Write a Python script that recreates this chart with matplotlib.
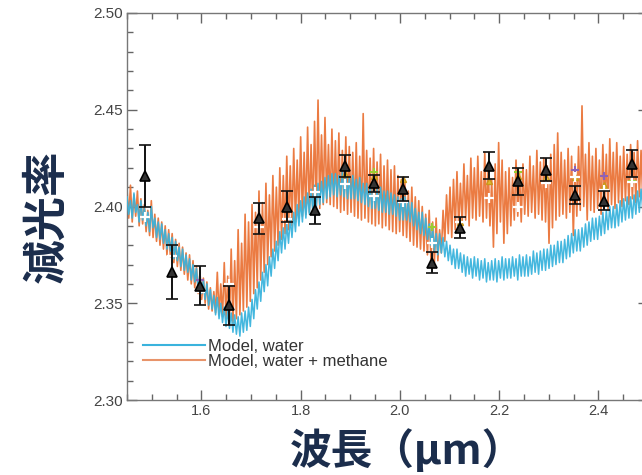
import numpy as np
import matplotlib
matplotlib.use("Agg")
import matplotlib.pyplot as plt

# Wavelength grid of the model spectra (micron)
wl_start, wl_step = 1.45, 0.0035

# Model transit depth: water only (10 samples per row)
model_water = [
    2.405, 2.396, 2.403, 2.394, 2.407, 2.397, 2.401, 2.392, 2.403, 2.393,
    2.399, 2.390, 2.397, 2.387, 2.400, 2.389, 2.394, 2.384, 2.392, 2.383,
    2.391, 2.381, 2.388, 2.378, 2.386, 2.377, 2.384, 2.373, 2.382, 2.372,
    2.379, 2.369, 2.378, 2.367, 2.375, 2.366, 2.373, 2.362, 2.370, 2.361,
    2.368, 2.357, 2.365, 2.355, 2.362, 2.352, 2.360, 2.349, 2.357, 2.347,
    2.354, 2.344, 2.353, 2.342, 2.350, 2.340, 2.348, 2.338, 2.346, 2.337,
    2.345, 2.335, 2.344, 2.334, 2.343, 2.333, 2.345, 2.335, 2.346, 2.336,
    2.348, 2.338, 2.352, 2.342, 2.357, 2.347, 2.361, 2.351, 2.366, 2.356,
    2.370, 2.359, 2.374, 2.364, 2.378, 2.368, 2.382, 2.372, 2.387, 2.376,
    2.389, 2.378, 2.391, 2.381, 2.394, 2.384, 2.397, 2.387, 2.401, 2.390,
    2.403, 2.392, 2.405, 2.394, 2.407, 2.396, 2.409, 2.398, 2.411, 2.400,
    2.412, 2.401, 2.413, 2.402, 2.415, 2.404, 2.416, 2.405, 2.417, 2.406,
    2.417, 2.405, 2.416, 2.406, 2.418, 2.405, 2.416, 2.404, 2.415, 2.404,
    2.416, 2.404, 2.414, 2.403, 2.415, 2.402, 2.412, 2.401, 2.412, 2.400,
    2.411, 2.399, 2.410, 2.399, 2.409, 2.398, 2.410, 2.397, 2.408, 2.397,
    2.408, 2.396, 2.407, 2.396, 2.406, 2.395, 2.405, 2.393, 2.404, 2.393,
    2.405, 2.393, 2.403, 2.392, 2.402, 2.390, 2.399, 2.388, 2.397, 2.386,
    2.397, 2.385, 2.394, 2.383, 2.391, 2.380, 2.389, 2.377, 2.386, 2.375,
    2.386, 2.376, 2.384, 2.374, 2.382, 2.372, 2.380, 2.370, 2.378, 2.368,
    2.378, 2.368, 2.376, 2.366, 2.375, 2.364, 2.374, 2.365, 2.373, 2.363,
    2.374, 2.364, 2.373, 2.362, 2.372, 2.363, 2.373, 2.361, 2.371, 2.362,
    2.372, 2.362, 2.373, 2.361, 2.372, 2.363, 2.374, 2.362, 2.373, 2.363,
    2.373, 2.363, 2.374, 2.364, 2.373, 2.362, 2.375, 2.364, 2.374, 2.364,
    2.375, 2.364, 2.374, 2.365, 2.377, 2.366, 2.376, 2.365, 2.377, 2.367,
    2.378, 2.367, 2.378, 2.368, 2.380, 2.369, 2.380, 2.370, 2.382, 2.371,
    2.382, 2.371, 2.383, 2.373, 2.385, 2.374, 2.386, 2.376, 2.388, 2.377,
    2.388, 2.377, 2.389, 2.379, 2.391, 2.380, 2.392, 2.382, 2.394, 2.383,
    2.394, 2.383, 2.395, 2.385, 2.397, 2.386, 2.398, 2.388, 2.400, 2.389,
    2.400, 2.389, 2.401, 2.390, 2.403, 2.392, 2.404, 2.393, 2.405, 2.394,
    2.405, 2.394, 2.406, 2.396, 2.408, 2.397, 2.409, 2.398, 2.410, 2.399,
    2.405,
]

# Model transit depth: water + methane (10 samples per row)
model_methane = [
    2.409, 2.394, 2.411, 2.392, 2.406, 2.395, 2.408, 2.390, 2.404, 2.391,
    2.401, 2.387, 2.398, 2.385, 2.403, 2.384, 2.396, 2.382, 2.394, 2.380,
    2.392, 2.378, 2.390, 2.375, 2.388, 2.374, 2.386, 2.371, 2.383, 2.369,
    2.381, 2.367, 2.379, 2.365, 2.376, 2.362, 2.375, 2.360, 2.372, 2.358,
    2.369, 2.355, 2.366, 2.352, 2.363, 2.350, 2.361, 2.347, 2.358, 2.346,
    2.356, 2.345, 2.366, 2.344, 2.360, 2.343, 2.371, 2.342, 2.364, 2.341,
    2.378, 2.340, 2.372, 2.342, 2.388, 2.344, 2.381, 2.346, 2.396, 2.348,
    2.392, 2.351, 2.401, 2.355, 2.397, 2.358, 2.408, 2.362, 2.402, 2.366,
    2.412, 2.370, 2.406, 2.374, 2.416, 2.377, 2.410, 2.380, 2.420, 2.383,
    2.416, 2.386, 2.426, 2.388, 2.421, 2.390, 2.430, 2.392, 2.424, 2.394,
    2.436, 2.395, 2.428, 2.396, 2.441, 2.397, 2.432, 2.396, 2.444, 2.398,
    2.455, 2.399, 2.437, 2.401, 2.446, 2.402, 2.432, 2.401, 2.440, 2.400,
    2.434, 2.399, 2.438, 2.397, 2.429, 2.398, 2.436, 2.396, 2.431, 2.397,
    2.428, 2.395, 2.433, 2.394, 2.426, 2.393, 2.448, 2.394, 2.429, 2.392,
    2.425, 2.391, 2.430, 2.390, 2.423, 2.391, 2.427, 2.389, 2.421, 2.390,
    2.424, 2.388, 2.419, 2.387, 2.421, 2.386, 2.416, 2.387, 2.414, 2.385,
    2.412, 2.384, 2.408, 2.382, 2.410, 2.380, 2.405, 2.379, 2.403, 2.378,
    2.400, 2.377, 2.396, 2.375, 2.398, 2.373, 2.392, 2.371, 2.394, 2.372,
    2.388, 2.376, 2.398, 2.382, 2.406, 2.386, 2.410, 2.384, 2.414, 2.388,
    2.418, 2.390, 2.412, 2.391, 2.422, 2.393, 2.416, 2.390, 2.425, 2.394,
    2.420, 2.393, 2.426, 2.395, 2.418, 2.392, 2.428, 2.394, 2.421, 2.390,
    2.414, 2.379, 2.422, 2.386, 2.433, 2.392, 2.424, 2.381, 2.418, 2.386,
    2.420, 2.390, 2.415, 2.393, 2.424, 2.395, 2.418, 2.392, 2.422, 2.396,
    2.419, 2.395, 2.426, 2.397, 2.421, 2.394, 2.429, 2.396, 2.423, 2.393,
    2.425, 2.392, 2.421, 2.381, 2.427, 2.389, 2.432, 2.393, 2.438, 2.395,
    2.428, 2.396, 2.424, 2.394, 2.430, 2.397, 2.426, 2.385, 2.422, 2.395,
    2.431, 2.398, 2.452, 2.400, 2.427, 2.393, 2.433, 2.398, 2.426, 2.397,
    2.430, 2.399, 2.424, 2.396, 2.432, 2.400, 2.427, 2.398, 2.435, 2.401,
    2.428, 2.399, 2.433, 2.402, 2.426, 2.400, 2.431, 2.403, 2.427, 2.401,
    2.432, 2.404, 2.428, 2.402, 2.434, 2.405, 2.429, 2.403, 2.430, 2.406,
    2.426,
]

# Measured spectrum (binned)
obs_wl = [1.487, 1.541, 1.598, 1.655, 1.716, 1.773, 1.828, 1.889, 1.947,
          2.006, 2.065, 2.121, 2.179, 2.237, 2.295, 2.352, 2.411, 2.468]
obs_depth = [2.416, 2.366, 2.359, 2.349, 2.394, 2.400, 2.398, 2.421, 2.412,
             2.409, 2.371, 2.389, 2.421, 2.413, 2.419, 2.406, 2.403, 2.422]
obs_err = [0.016, 0.014, 0.010, 0.010, 0.008, 0.008, 0.007, 0.0055, 0.0045,
           0.006, 0.0055, 0.0055, 0.007, 0.007, 0.006, 0.0045, 0.005, 0.007]

# Alternative reductions of the same bins
alt_white = [2.3946, 2.3745, 2.356, 2.360, 2.3896, 2.3936, 2.4077, 2.4117, 2.4054,
             2.4025, 2.381, 2.392, 2.4043, 2.3996, 2.412, 2.4155, 2.4086, 2.4129]
alt_yellow = [None, None, None, None, None, None, None, 2.417, 2.416,
              2.414, None, 2.392, 2.413, 2.416, 2.415, 2.415, 2.411, None]
alt_purple = [None, None, 2.362, None, None, None, None, None, None,
              None, None, None, None, None, None, 2.419, 2.416, None]
alt_green = [None, None, None, None, None, None, None, None, 2.418,
             None, 2.3896, None, None, 2.418, None, None, None, 2.413]

x_ticks = [1.6, 1.8, 2.0, 2.2, 2.4]
y_ticks = [2.30, 2.35, 2.40, 2.45, 2.50]

BLUE = "#3ab3dd"
ORANGE = "#ea7438"
NAVY = "#1b2d4c"
GREY = "#666666"

fig = plt.figure(figsize=(6.42, 4.75), dpi=100)
ax = fig.add_axes([127 / 642, 75 / 475, 521 / 642, 387 / 475])

wl_water = wl_start + wl_step * np.arange(len(model_water))
wl_methane = wl_start + wl_step * np.arange(len(model_methane))

ax.plot(wl_methane, model_methane, color=ORANGE, lw=1.2, alpha=0.95, zorder=2)
ax.plot(wl_water, model_water, color=BLUE, lw=1.1, alpha=0.95, zorder=3)


def sparse(values):
    xs = [w for w, v in zip(obs_wl, values) if v is not None]
    ys = [v for v in values if v is not None]
    return xs, ys


gx, gy = sparse(alt_green)
ax.plot(gx, gy, ls="none", marker="+", ms=6, mew=1.5, color="#9acd32", zorder=4)
yx, yy = sparse(alt_yellow)
ax.plot(yx, yy, ls="none", marker="^", ms=5, mfc="#e2b92c", mec="#c9961c", zorder=4)
px, py = sparse(alt_purple)
ax.plot(px, py, ls="none", marker="+", ms=6, mew=1.5, color="#8f62b5", zorder=4)

ax.plot(obs_wl, alt_white, ls="none", marker="+", ms=7, mew=1.6, color="white", zorder=5)

ax.errorbar(obs_wl, obs_depth, yerr=obs_err, fmt="^", ms=7.5, mfc="#333333",
            mec="black", mew=1.2, ecolor="#111111", elinewidth=1.4,
            capsize=4, capthick=1.4, zorder=6)

ax.set_xlim(1.45, 2.50)
ax.set_ylim(2.30, 2.50)
ax.set_xticks(x_ticks)
ax.set_xticklabels([f"{t:.1f}" for t in x_ticks])
ax.set_yticks(y_ticks)
ax.set_yticklabels([f"{t:.2f}" for t in y_ticks])
ax.set_xticks(np.arange(1.45, 2.5001, 0.05), minor=True)
ax.set_yticks(np.arange(2.30, 2.5001, 0.01), minor=True)
ax.tick_params(which="both", direction="in", top=True, right=True,
               color=GREY, width=1.0, labelcolor="#444444")
ax.tick_params(which="major", length=7)
ax.tick_params(which="minor", length=4)
ax.tick_params(axis="y", labelsize=11, pad=3)
ax.tick_params(axis="x", labelsize=10.5, pad=3)
for lab in ax.get_xticklabels() + ax.get_yticklabels():
    lab.set_family("Liberation Sans")
for sp in ax.spines.values():
    sp.set_color("#777777")
    sp.set_linewidth(1.0)

leg_handles = [
    plt.Line2D([], [], color=BLUE, lw=1.5),
    plt.Line2D([], [], color="#e8946a", lw=1.5),
]
ax.legend(leg_handles, ["Model, water", "Model, water + methane"],
          loc="lower left", bbox_to_anchor=(0.031, 0.08), frameon=False,
          handlelength=3.7, handletextpad=0.2, labelspacing=0.0,
          borderpad=0, borderaxespad=0,
          prop={"family": "Liberation Sans", "size": 12}, labelcolor="#333333")

fig.text(47 / 642, 1 - 216 / 475, "減光率", rotation=90, ha="center", va="center",
         fontsize=32, fontweight="bold", color=NAVY,
         family=["Noto Sans CJK JP", "DejaVu Sans"])
fig.text(407 / 642, 1 - 451 / 475, "波長（μm）", ha="center", va="center",
         fontsize=30, fontweight="bold", color=NAVY,
         family=["Noto Sans CJK JP", "DejaVu Sans"])

fig.savefig("out.png", dpi=100)
